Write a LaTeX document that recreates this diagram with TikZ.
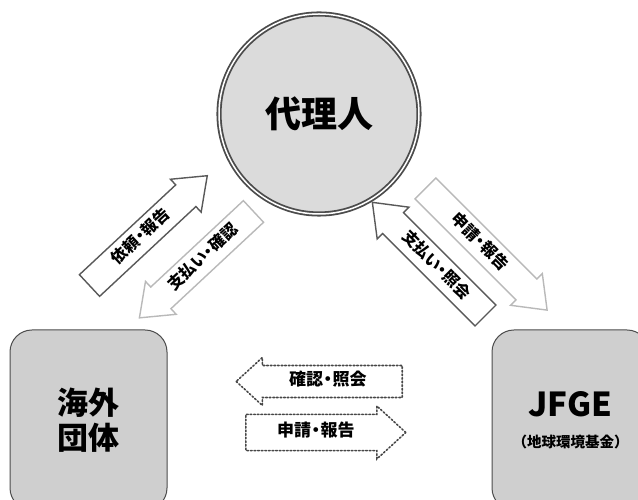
\documentclass[tikz,border=0pt]{standalone}
\usepackage{fontspec}
\setmainfont{Noto Sans CJK JP}
\usetikzlibrary{shapes.arrows}
\newcommand{\nakaguro}{\kern-0.22em・\kern-0.22em}

\begin{document}
\begin{tikzpicture}[x=1pt,y=1pt,
    every node/.style={font=\bfseries, text=black},
    agent/.style={circle, draw=gray!60!black, double=white, double distance=1.5pt, line width=1.8pt, fill=gray!28, minimum size=200pt, inner sep=0pt},
    party/.style={draw=gray!60!black, line width=1pt, rounded corners=22pt, fill=gray!38, minimum width=157pt, minimum height=180pt, align=center},
    flow/.style={single arrow, fill=white, line width=1.4pt, single arrow tip angle=75, anchor=tail, text height=12pt, text depth=3pt, inner ysep=5.5pt, minimum width=45pt, font=\bfseries\fontsize{16}{16}\selectfont},
    darkflow/.style={flow, draw=gray!70!black},
    lightflow/.style={flow, draw=gray!55},
    dotflow/.style={single arrow, fill=white, draw=gray!55!black, line width=1.6pt, dotted, line cap=round, anchor=tail, text height=12pt, text depth=3pt, single arrow tip angle=85, font=\bfseries\fontsize{17}{17}\selectfont}]

    \useasboundingbox (0,0) rectangle (638,500);

    \node (agent) at (319,386) [agent, font=\bfseries\fontsize{36}{36}\selectfont] {代理人};
    \node (abroad) at (88.5,80) [party, font=\bfseries\fontsize{31}{35}\selectfont] {海外\\団体};
    \node (jfge) at (570.5,80) [party, font=\bfseries\fontsize{33}{31}\selectfont] {JFGE\\{\fontsize{14.5}{16}\selectfont（地球環境基金）}};

    % left pair
    \node (request) at (89,214) [darkflow, rotate=43, minimum height=161pt] {依頼\nakaguro 報告};
    \node (payconfirm) at (254,289) [lightflow, rotate=43, shape border rotate=180, minimum height=156pt] {支払い\nakaguro 確認};

    % right pair
    \node (payinquiry) at (486,184) [darkflow, rotate=-45, shape border rotate=180, minimum height=160pt] {支払い\nakaguro 照会};
    \node (apply) at (425,312) [lightflow, rotate=-45, minimum height=172pt] {申請\nakaguro 報告};

    % bottom pair
    \node (confirm) at (403,118.5) [dotflow, shape border rotate=180, inner ysep=6pt, minimum width=48pt, minimum height=166pt] {確認\nakaguro 照会};
    \node (report) at (245,67.5) [dotflow, inner ysep=7pt, minimum width=53pt, minimum height=160pt] {申請\nakaguro 報告};
\end{tikzpicture}
\end{document}
